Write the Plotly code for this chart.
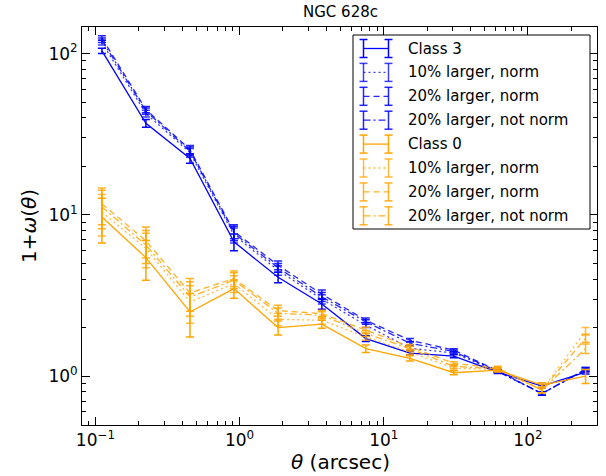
import plotly.graph_objects as go

# ---- data ----
theta = [0.111, 0.224, 0.453, 0.914, 1.85, 3.72, 7.51, 15.2, 30.6, 61.7, 125, 251]

c3 = [104, 37, 22.4, 6.8, 4.1, 2.8, 1.71, 1.39, 1.33, 1.06, 0.867, 1.06]
c3_10n = [117, 42.5, 24.3, 7.5, 4.53, 3.0, 2.07, 1.49, 1.39, 1.07, 0.78, 1.09]
c3_20n = [125, 45, 25.4, 7.9, 4.87, 3.22, 2.22, 1.67, 1.45, 1.08, 0.78, 1.1]
c3_20nn = [121, 44, 24.9, 7.7, 4.7, 3.1, 2.17, 1.6, 1.42, 1.07, 0.78, 1.1]
c3_err = [4, 2, 1.5, 0.8, 0.3, 0.2, 0.07, 0.04, 0.03, 0.02, 0.02, 0.03]

c0 = [9.7, 5.43, 2.5, 3.49, 2.0, 2.1, 1.48, 1.29, 1.05, 1.09, 0.88, 1.0]
c0_10n = [10.4, 6.2, 2.88, 3.75, 2.25, 2.22, 1.75, 1.41, 1.12, 1.1, 0.82, 1.9]
c0_20n = [11.7, 6.9, 3.28, 4.03, 2.55, 2.44, 1.93, 1.52, 1.2, 1.12, 0.82, 1.72]
c0_20nn = [11.2, 6.5, 3.1, 3.93, 2.45, 2.39, 1.84, 1.48, 1.15, 1.11, 0.82, 1.48]
c0_err = [3.0, 1.5, 0.75, 0.45, 0.2, 0.12, 0.08, 0.05, 0.03, 0.03, 0.03, 0.1]

labels = ["Class 3", "10% larger, norm", "20% larger, norm", "20% larger, not norm",
          "Class 0", "10% larger, norm", "20% larger, norm", "20% larger, not norm"]

x_tickvals = [0.1, 1, 10, 100]
x_ticktext = ["10<sup>−1</sup>", "10<sup>0</sup>", "10<sup>1</sup>", "10<sup>2</sup>"]
y_tickvals = [1, 10, 100]
y_ticktext = ["10<sup>0</sup>", "10<sup>1</sup>", "10<sup>2</sup>"]

BLUE = "#0000ff"
ORANGE = "#ffa500"
dashes = ["solid", "2px,3px", "6px,4px", "7px,3px,2px,3px"]
opac = [1.0, 0.75, 0.85, 0.85]

series = [
    (c3, c3_err, BLUE, 0), (c3_10n, c3_err, BLUE, 1), (c3_20n, c3_err, BLUE, 2), (c3_20nn, c3_err, BLUE, 3),
    (c0, c0_err, ORANGE, 0), (c0_10n, c0_err, ORANGE, 1), (c0_20n, c0_err, ORANGE, 2), (c0_20nn, c0_err, ORANGE, 3),
]

fig = go.Figure()
for (vals, err, col, k), name in zip(series, labels):
    fig.add_trace(go.Scatter(
        x=theta, y=vals, mode="lines", name=name, showlegend=False,
        opacity=opac[k],
        line=dict(color=col, width=1.3, dash=dashes[k]),
        error_y=dict(type="data", array=err, visible=True, color=col, thickness=1.5, width=4),
    ))

W, H = 606, 476
L, R, T, B = 82, 597, 27, 425

def px(x):
    return (x - L) / (R - L)

def py(y):
    return 1 - (y - T) / (B - T)

shapes = []
annotations = []
# legend box
shapes.append(dict(type="rect", xref="paper", yref="paper",
                   x0=px(353), x1=px(590), y0=py(229), y1=py(35),
                   line=dict(color="black", width=1), fillcolor="white", layer="above"))
for i, ((vals, err, col, k), name) in enumerate(zip(series, labels)):
    yc = 48.5 + i * 23.9
    shapes.append(dict(type="line", xref="paper", yref="paper",
                       x0=px(363.5), x1=px(388.5), y0=py(yc), y1=py(yc),
                       line=dict(color=col, width=1.3, dash=dashes[k]), opacity=opac[k], layer="above"))
    for xx in (363.5, 388.5):
        shapes.append(dict(type="line", xref="paper", yref="paper",
                           x0=px(xx), x1=px(xx), y0=py(yc - 9), y1=py(yc + 9),
                           line=dict(color=col, width=1.5), opacity=opac[k], layer="above"))
        shapes.append(dict(type="line", xref="paper", yref="paper",
                           x0=px(xx - 4), x1=px(xx + 4), y0=py(yc - 9), y1=py(yc - 9),
                           line=dict(color=col, width=1.5), opacity=opac[k], layer="above"))
        shapes.append(dict(type="line", xref="paper", yref="paper",
                           x0=px(xx - 4), x1=px(xx + 4), y0=py(yc + 9), y1=py(yc + 9),
                           line=dict(color=col, width=1.5), opacity=opac[k], layer="above"))
    annotations.append(dict(xref="paper", yref="paper", x=px(406), y=py(yc),
                            text=name, showarrow=False, xanchor="left", yanchor="middle",
                            font=dict(size=15, color="black")))

annotations.append(dict(xref="paper", yref="paper", x=px(340), y=py(12),
                        text="NGC 628c", showarrow=False, xanchor="center", yanchor="middle",
                        font=dict(size=15, color="black")))
annotations.append(dict(xref="paper", yref="paper", x=px(340), y=py(462),
                        text="<i>θ</i> (arcsec)", showarrow=False, xanchor="center", yanchor="middle",
                        font=dict(size=20, color="black")))
annotations.append(dict(xref="paper", yref="paper", x=px(29), y=py(226),
                        text="1+<i>ω</i>(<i>θ</i>)", showarrow=False, xanchor="center", yanchor="middle",
                        textangle=-90, font=dict(size=20, color="black")))

axis_common = dict(
    type="log", showgrid=False, zeroline=False, automargin=False,
    showline=True, linecolor="black", linewidth=1, mirror="allticks",
    ticks="inside", ticklen=8, tickwidth=1, tickcolor="black",
    tickfont=dict(family="DejaVu Sans", size=17, color="black"),
    minor=dict(ticks="inside", ticklen=4, tickwidth=1, tickcolor="black", dtick="D1", showgrid=False),
)

fig.update_layout(
    width=W, height=H,
    margin=dict(l=L, r=W - R, t=T, b=H - B),
    paper_bgcolor="white", plot_bgcolor="white",
    font=dict(family="DejaVu Sans", color="black"),
    xaxis=dict(axis_common, range=[-1.093, 2.479], tickvals=x_tickvals, ticktext=x_ticktext),
    yaxis=dict(axis_common, range=[-0.303, 2.165], tickvals=y_tickvals, ticktext=y_ticktext),
    shapes=shapes, annotations=annotations,
)

fig.write_html("out.html", config={"displayModeBar": False},
               post_script="document.body.style.margin='0px';document.body.style.overflow='hidden';")
